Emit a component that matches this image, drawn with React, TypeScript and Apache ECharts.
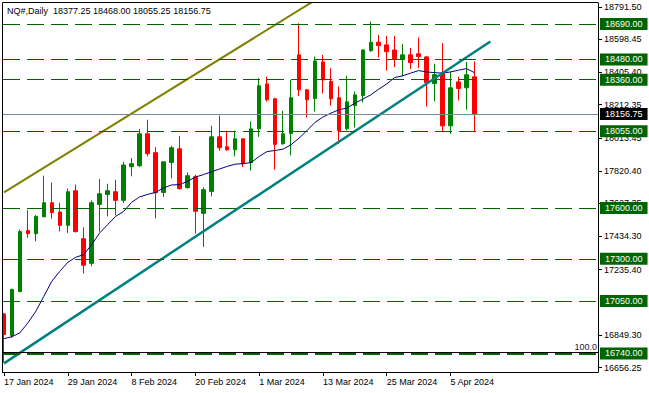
import { useEffect, useRef } from "react";
import * as echarts from "echarts";

const symbolName = "NQ#,Daily";

const dates = [
  "17 Jan 2024", "18 Jan 2024", "19 Jan 2024", "22 Jan 2024", "23 Jan 2024", "24 Jan 2024", "25 Jan 2024", "26 Jan 2024",
  "29 Jan 2024", "30 Jan 2024", "31 Jan 2024", "1 Feb 2024", "2 Feb 2024", "5 Feb 2024", "6 Feb 2024", "7 Feb 2024",
  "8 Feb 2024", "9 Feb 2024", "12 Feb 2024", "13 Feb 2024", "14 Feb 2024", "15 Feb 2024", "16 Feb 2024", "19 Feb 2024",
  "20 Feb 2024", "21 Feb 2024", "22 Feb 2024", "23 Feb 2024", "26 Feb 2024", "27 Feb 2024", "28 Feb 2024", "29 Feb 2024",
  "1 Mar 2024", "4 Mar 2024", "5 Mar 2024", "6 Mar 2024", "7 Mar 2024", "8 Mar 2024", "11 Mar 2024", "12 Mar 2024",
  "13 Mar 2024", "14 Mar 2024", "15 Mar 2024", "18 Mar 2024", "19 Mar 2024", "20 Mar 2024", "21 Mar 2024", "22 Mar 2024",
  "25 Mar 2024", "26 Mar 2024", "27 Mar 2024", "28 Mar 2024", "1 Apr 2024", "2 Apr 2024", "3 Apr 2024", "4 Apr 2024",
  "5 Apr 2024", "8 Apr 2024", "9 Apr 2024", "10 Apr 2024",
];

const opens = [
  16974, 16846, 17106, 17467, 17449, 17549, 17632, 17577,
  17498, 17703, 17419, 17273, 17622, 17681, 17697, 17646,
  17845, 17851, 18040, 17928, 17693, 17870, 17951, 17721,
  17786, 17569, 17699, 18022, 17963, 17945, 18010, 17869,
  18069, 18335, 18247, 17981, 18042, 18507, 18300, 18249,
  18465, 18349, 18253, 18069, 18207, 18266, 18532, 18582,
  18566, 18536, 18479, 18507, 18513, 18495, 18337, 18399,
  18087, 18347, 18312, 18377.25,
];
const highs = [
  16980, 17124, 17473, 17587, 17559, 17792, 17752, 17632,
  17715, 17739, 17486, 17646, 17772, 17744, 17768, 17873,
  17896, 18068, 18123, 17961, 17876, 17969, 18028, 17811,
  17798, 17723, 18087, 18148, 18058, 18058, 18012, 18113,
  18369, 18377, 18253, 18176, 18359, 18694, 18306, 18497,
  18507, 18428, 18320, 18383, 18290, 18540, 18704, 18625,
  18619, 18619, 18572, 18548, 18611, 18500, 18454, 18576,
  18408, 18377, 18465, 18468.0,
];
const lows = [
  16686, 16832, 17102, 17425, 17403, 17545, 17537, 17462,
  17453, 17455, 17212, 17256, 17461, 17551, 17557, 17630,
  17788, 17843, 17906, 17539, 17666, 17776, 17709, 17715,
  17449, 17370, 17669, 17939, 17939, 17906, 17843, 17823,
  18022, 18231, 17827, 17975, 17912, 18263, 18136, 18172,
  18278, 18207, 17980, 18060, 18077, 18225, 18525, 18491,
  18414, 18434, 18381, 18424, 18428, 18201, 18233, 18053,
  18040, 18237, 18182, 18055.25,
];
const closes = [
  16852, 17118, 17461, 17449, 17551, 17632, 17573, 17498,
  17697, 17461, 17262, 17632, 17685, 17703, 17646, 17855,
  17863, 18040, 17922, 17691, 17874, 17957, 17715, 17792,
  17581, 17709, 18022, 17957, 17945, 18010, 17863, 18069,
  18324, 18241, 17977, 18040, 18253, 18300, 18241, 18471,
  18359, 18247, 18059, 18229, 18270, 18536, 18582, 18562,
  18526, 18485, 18507, 18461, 18497, 18343, 18390, 18087,
  18312, 18308, 18389, 18156.75,
];

const movingAverage = [
  16827, 16839, 16862, 16921, 16990, 17078, 17167, 17226,
  17279, 17309, 17325, 17384, 17453, 17502, 17551, 17580,
  17634, 17666, 17681, 17693, 17719, 17737, 17739, 17758,
  17784, 17798, 17815, 17831, 17847, 17860, 17863, 17870,
  17906, 17935, 17941, 17949, 17975, 18014, 18059, 18107,
  18139, 18162, 18182, 18192, 18221, 18245, 18270, 18304,
  18335, 18373, 18383, 18399, 18414, 18406, 18402, 18399,
  18406, 18416, 18426, 18402,
];

const levels = [18690, 18480, 18360, 18055, 17600, 17300, 17050, 16740];
const lastPrice = 18156.75;
const fiboPrice = 16746;
const fiboText = "100.0";
const priceTicks = [
  16656.25, 16849.3, 17235.4, 17434.3, 17627.35, 17820.4, 18013.45, 18212.35, 18405.4, 18598.45, 18791.5,
];
const futureSlots = 15;

// trend lines: [bar index, price]
const tealLine = [[0, 16681], [61, 18586]];
const oliveLine = [[0, 17693], [45, 19005]];

const FONT = "Liberation Sans, Arial, sans-serif";
const GREEN = "#006400";

export default function App() {
  const ref = useRef<HTMLDivElement>(null);
  useEffect(() => {
    if (!ref.current) return;
    const chart = echarts.init(ref.current, undefined, { renderer: "svg" });
    const n = dates.length;
    const cats = [...dates];
    for (let i = 0; i < futureSlots; i++) cats.push("f" + (n + i));
    const candles = opens.map((o, i) => [o, closes[i], lows[i], highs[i]]);
    const showIdx = (index: number) => index % 8 === 0 && index < n;
    const fmt = (v: number) => v.toFixed(2);

    const levelLines: any[] = levels.map((v) => ({
      yAxis: v,
      lineStyle: { color: GREEN, width: v === 16740 ? 2 : 1, type: [17, 7], dashOffset: 21 },
      label: {
        show: true,
        position: "end",
        distance: 2,
        formatter: fmt(v),
        color: "#ffffff",
        backgroundColor: GREEN,
        fontFamily: FONT,
        fontSize: 9,
        lineHeight: 10,
        padding: [1, 5, 1, 5],
      },
    }));
    levelLines.push({
      yAxis: lastPrice,
      lineStyle: { color: "#778899", width: 1, type: "solid" },
      label: {
        show: true,
        position: "end",
        distance: 2,
        formatter: fmt(lastPrice),
        color: "#ffffff",
        backgroundColor: "#000000",
        fontFamily: FONT,
        fontSize: 9,
        lineHeight: 10,
        padding: [1, 5, 1, 5],
      },
    });
    levelLines.push({
      yAxis: fiboPrice,
      lineStyle: { color: "#000000", width: 1, type: "solid" },
      label: {
        show: true,
        position: "insideEndTop",
        distance: 1,
        formatter: fiboText,
        color: "#1a1a40",
        fontFamily: FONT,
        fontSize: 9,
      },
    });

    chart.setOption({
      animation: false,
      grid: { left: 0, right: 51, top: 3, bottom: 21 },
      xAxis: {
        type: "category",
        data: cats,
        boundaryGap: true,
        axisLine: { show: true, lineStyle: { color: "#000", width: 1 } },
        axisTick: { show: true, alignWithLabel: true, interval: (i: number) => showIdx(i), length: 4, lineStyle: { color: "#000" } },
        axisLabel: {
          interval: (i: number) => showIdx(i),
          align: "left",
          margin: 5,
          color: "#000",
          fontFamily: FONT,
          fontSize: 9,
        },
        splitLine: { show: false },
      },
      yAxis: {
        type: "value",
        position: "right",
        min: 16630,
        max: 18814,
        scale: true,
        axisLine: { show: true, lineStyle: { color: "#000", width: 1 } },
        axisTick: { show: true, customValues: priceTicks, length: 4, lineStyle: { color: "#000" } },
        axisLabel: {
          customValues: priceTicks,
          formatter: (v: number) => fmt(v),
          margin: 6,
          color: "#000",
          fontFamily: FONT,
          fontSize: 9,
        },
        splitLine: { show: false },
      },
      series: [
        {
          type: "candlestick",
          data: candles,
          barWidth: 4,
          silent: true,
          itemStyle: {
            color: "#008000",
            color0: "#ff0000",
            borderColor: "#008000",
            borderColor0: "#ff0000",
            borderWidth: 1,
          },
          markLine: {
            silent: true,
            symbol: ["none", "none"],
            animation: false,
            data: levelLines,
          },
          z: 2,
        },
        {
          type: "line",
          data: movingAverage,
          symbol: "none",
          silent: true,
          lineStyle: { color: "#000080", width: 1 },
          z: 3,
        },
        {
          type: "line",
          data: tealLine,
          symbol: "none",
          silent: true,
          lineStyle: { color: "#008080", width: 2.5 },
          z: 4,
        },
        {
          type: "line",
          data: oliveLine,
          symbol: "none",
          silent: true,
          lineStyle: { color: "#808000", width: 2 },
          z: 4,
        },
      ],
      graphic: [
        { type: "rect", shape: { x: 0, y: 0, width: 2, height: 393 }, style: { fill: "#ffffff" }, z: 100, silent: true },
        { type: "line", shape: { x1: 2.5, y1: 2.5, x2: 2.5, y2: 372 }, style: { stroke: "#000", lineWidth: 1 }, z: 101, silent: true },
        { type: "line", shape: { x1: 2.5, y1: 2.5, x2: 598, y2: 2.5 }, style: { stroke: "#000", lineWidth: 1 }, z: 101, silent: true },
        {
          type: "text",
          x: 7,
          y: 6,
          z: 102,
          silent: true,
          style: {
            text: `${symbolName}  ${fmt(opens[n - 1])} ${fmt(highs[n - 1])} ${fmt(lows[n - 1])} ${fmt(closes[n - 1])}`,
            fill: "#000",
            font: `9px ${FONT}`,
          },
        },
      ],
    });
    return () => chart.dispose();
  }, []);
  return <div ref={ref} style={{ width: 649, height: 393, position: "absolute", left: 0, top: 0, background: "#fff" }} />;
}
